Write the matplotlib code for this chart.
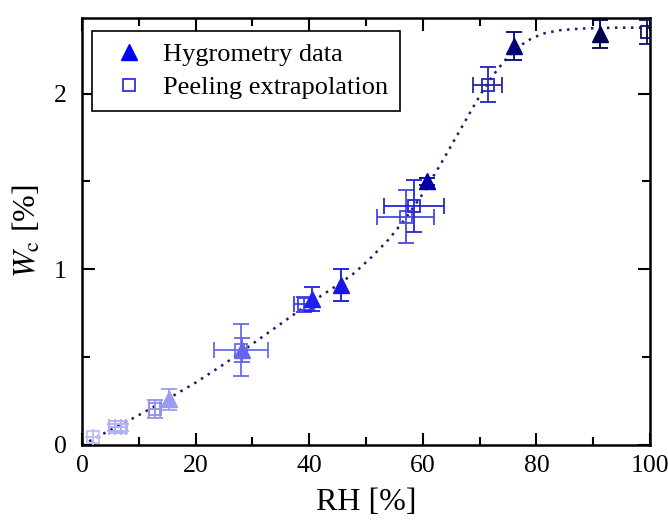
import matplotlib
matplotlib.use('Agg')
import matplotlib.pyplot as plt
from matplotlib.lines import Line2D
from matplotlib.ticker import MultipleLocator

plt.rcParams['font.family'] = ['Liberation Serif', 'DejaVu Serif']
plt.rcParams['mathtext.fontset'] = 'stix'

# hygrometry data (triangles)
hyg_rh = [15.4, 28.2, 40.5, 45.6, 60.8, 76.1, 91.2]
hyg_w = [0.26, 0.54, 0.83, 0.91, 1.50, 2.27, 2.34]
hyg_werr = [0.06, 0.07, 0.07, 0.09, 0.02, 0.08, 0.08]
hyg_colors = ['#9b9bf0', '#6565ee', '#1f1ff0', '#1515e8', '#0000a8', '#00007a', '#000050']

# peeling extrapolation (squares)
peel_rh = [2.0, 5.8, 6.8, 12.8, 28.0, 39.1, 57.0, 58.4, 71.4, 99.5]
peel_w = [0.045, 0.10, 0.10, 0.205, 0.54, 0.80, 1.30, 1.36, 2.05, 2.35]
peel_werr = [0.0, 0.02, 0.02, 0.05, 0.15, 0.045, 0.15, 0.15, 0.10, 0.07]
peel_rherr = [0.0, 1.0, 1.0, 1.0, 4.8, 1.8, 5.0, 5.3, 2.5, 0.0]
peel_colors = ['#c0c0f8', '#b0b0f5', '#b0b0f5', '#9090ee', '#6a6aee',
               '#3d3de8', '#4848e0', '#2525d8', '#2525b0', '#101060']

# fitted curve
fit_rh = [0, 5, 10, 15, 20, 25, 30, 35, 40, 45, 48, 51, 54, 57, 60, 63, 66,
          69, 71, 73, 75, 77, 79, 81, 84, 88, 94, 100]
fit_w = [0, 0.085, 0.17, 0.26, 0.355, 0.46, 0.575, 0.69, 0.805, 0.91, 0.98,
         1.07, 1.17, 1.29, 1.43, 1.59, 1.76, 1.93, 2.04, 2.13, 2.21, 2.27,
         2.31, 2.34, 2.36, 2.37, 2.375, 2.375]

fig = plt.figure(figsize=(6.68, 5.29), dpi=100)
ax = fig.add_axes([0.1228, 0.1588, 0.8502, 0.8072])

ax.plot(fit_rh, fit_w, color='#1a1a6e', lw=1.8, dashes=(1.0, 2.2), zorder=2)

for i in range(len(peel_rh)):
    c = peel_colors[i]
    ax.errorbar(peel_rh[i], peel_w[i], yerr=peel_werr[i], xerr=peel_rherr[i],
                fmt='s', ms=8.5, mfc='none', mec=c, mew=1.3, ecolor=c,
                elinewidth=1.3, capsize=6, capthick=1.3, zorder=3)

for i in range(len(hyg_rh)):
    c = hyg_colors[i]
    ax.errorbar(hyg_rh[i], hyg_w[i], yerr=hyg_werr[i], fmt='^', ms=11,
                color=c, mec=c, ecolor=c, elinewidth=1.3, capsize=6,
                capthick=1.3, zorder=4)

ax.set_xlim(0, 100)
ax.set_ylim(0, 2.43)
ax.xaxis.set_major_locator(MultipleLocator(20))
ax.xaxis.set_minor_locator(MultipleLocator(10))
ax.yaxis.set_major_locator(MultipleLocator(1))
ax.yaxis.set_minor_locator(MultipleLocator(0.5))
ax.tick_params(which='both', direction='in', top=True, right=True, width=1.5,
               labelsize=18.5)
ax.tick_params(axis='x', pad=7)
ax.tick_params(axis='y', pad=11)
ax.tick_params(which='major', length=9)
ax.tick_params(which='minor', length=6)
for s in ax.spines.values():
    s.set_linewidth(1.8)

ax.set_xlabel('RH [%]', fontsize=23, labelpad=8)
ax.set_ylabel(r'$W_\mathrm{c}$ [%]', fontsize=23, labelpad=8)

handles = [
    Line2D([], [], marker='^', ls='none', ms=11, color='#0000ff'),
    Line2D([], [], marker='s', ls='none', ms=8.5, mfc='none', mec='#3030e0', mew=1.3),
]
leg = ax.legend(handles, ['Hygrometry data', 'Peeling extrapolation'],
                loc='upper left', bbox_to_anchor=(0.0175, 0.97), borderaxespad=0,
                fontsize=19, fancybox=False, edgecolor='black', framealpha=1,
                handletextpad=0.35, borderpad=0.45, labelspacing=0.35, handlelength=1.9)
leg.get_frame().set_linewidth(1.2)

fig.savefig('out.png', dpi=100)
